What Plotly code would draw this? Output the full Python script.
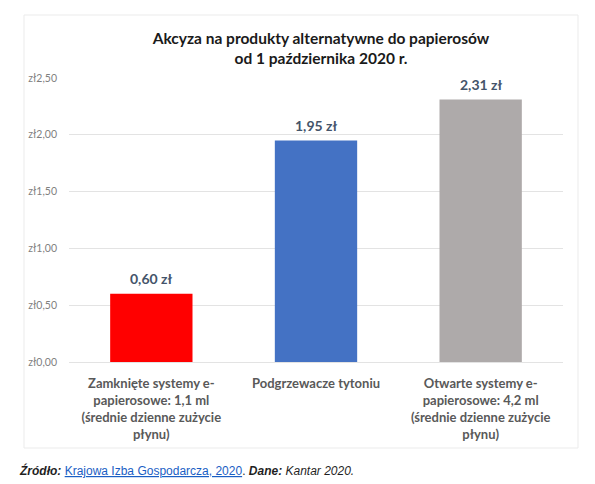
import plotly.graph_objects as go

categories = [
    "Zamknięte systemy e-<br>papierosowe: 1,1 ml<br>(średnie dzienne zużycie<br>płynu)",
    "Podgrzewacze tytoniu",
    "Otwarte systemy e-<br>papierosowe: 4,2 ml<br>(średnie dzienne zużycie<br>płynu)",
]
values = [0.60, 1.95, 2.31]
bar_colors = ["#FF0000", "#4472C4", "#AEAAAA"]
tick_values = [0, 0.5, 1.0, 1.5, 2.0, 2.5]
tick_labels = ["zł0,00", "zł0,50", "zł1,00", "zł1,50", "zł2,00", "zł2,50"]
value_labels = [f"{v:.2f}".replace(".", ",") + " zł" for v in values]

title_text = "Akcyza na produkty alternatywne do papierosów<br>od 1 października 2020 r."
source_text = ("<b><i>Źródło:</i></b> "
               "<a href='https://kig.pl' style='color:#1a5ec4'><u>Krajowa Izba Gospodarcza, 2020</u></a>"
               ". <b><i>Dane:</i></b> <i>Kantar 2020.</i>")

FONT = "Lato, 'Open Sans', sans-serif"
OFF = 8  # page body margin

fig = go.Figure()
fig.add_trace(go.Bar(
    x=categories,
    y=values,
    marker=dict(color=bar_colors, line=dict(width=0)),
    hoverinfo="skip",
))

for c, v, lab in zip(categories, values, value_labels):
    fig.add_annotation(
        x=c, y=v, xref="x", yref="y", text=lab, showarrow=False,
        yanchor="middle", yshift=15,
        font=dict(family=FONT, size=14, color="#44546A", weight="bold"),
    )

W, H = 595 - OFF, 484 - OFF
L, R, T, B = 69 - OFF, 595 - 563, 78 - OFF, H - (362 - OFF)
pw, ph = W - L - R, H - T - B

def px_x(x):
    return (x - OFF - L) / pw

def px_y(y):
    return (H - B - (y - OFF)) / ph

fig.update_layout(
    width=W, height=H,
    margin=dict(l=L, r=R, t=T, b=B, pad=0),
    paper_bgcolor="white",
    plot_bgcolor="white",
    showlegend=False,
    bargap=0.5,
    title=dict(
        text=title_text,
        font=dict(family=FONT, size=15.5, color="#1a1a1a", weight="bold"),
        xref="container", x=(321 - OFF) / W, xanchor="center",
        yref="container", y=1 - (43.5 - OFF) / H, yanchor="middle",
    ),
    xaxis=dict(
        showgrid=False,
        showline=False,
        zeroline=False,
        ticks="",
        ticklabelstandoff=12,
        tickfont=dict(family=FONT, size=13, color="#595959", weight="bold"),
    ),
    yaxis=dict(
        range=[0, 2.5],
        tickvals=tick_values,
        ticktext=tick_labels,
        showgrid=True,
        gridcolor="#E3E3E3",
        gridwidth=1,
        zeroline=True,
        zerolinecolor="#E3E3E3",
        zerolinewidth=1,
        showline=False,
        ticks="",
        ticklabelstandoff=11,
        tickfont=dict(family=FONT, size=10.5, color="#7F7F7F"),
    ),
    shapes=[dict(
        type="rect", xref="paper", yref="paper",
        x0=px_x(24), x1=px_x(578), y0=px_y(448), y1=px_y(15),
        line=dict(color="#EBEBEB", width=1), fillcolor="rgba(0,0,0,0)",
        layer="below",
    )],
)
fig.add_annotation(
    text=source_text,
    xref="paper", yref="paper",
    x=px_x(17), y=px_y(470),
    xanchor="left", yanchor="middle",
    showarrow=False,
    font=dict(family="'Liberation Sans', Arial, sans-serif", size=12, color="#1f1f1f"),
)

fig.write_html("out.html")
